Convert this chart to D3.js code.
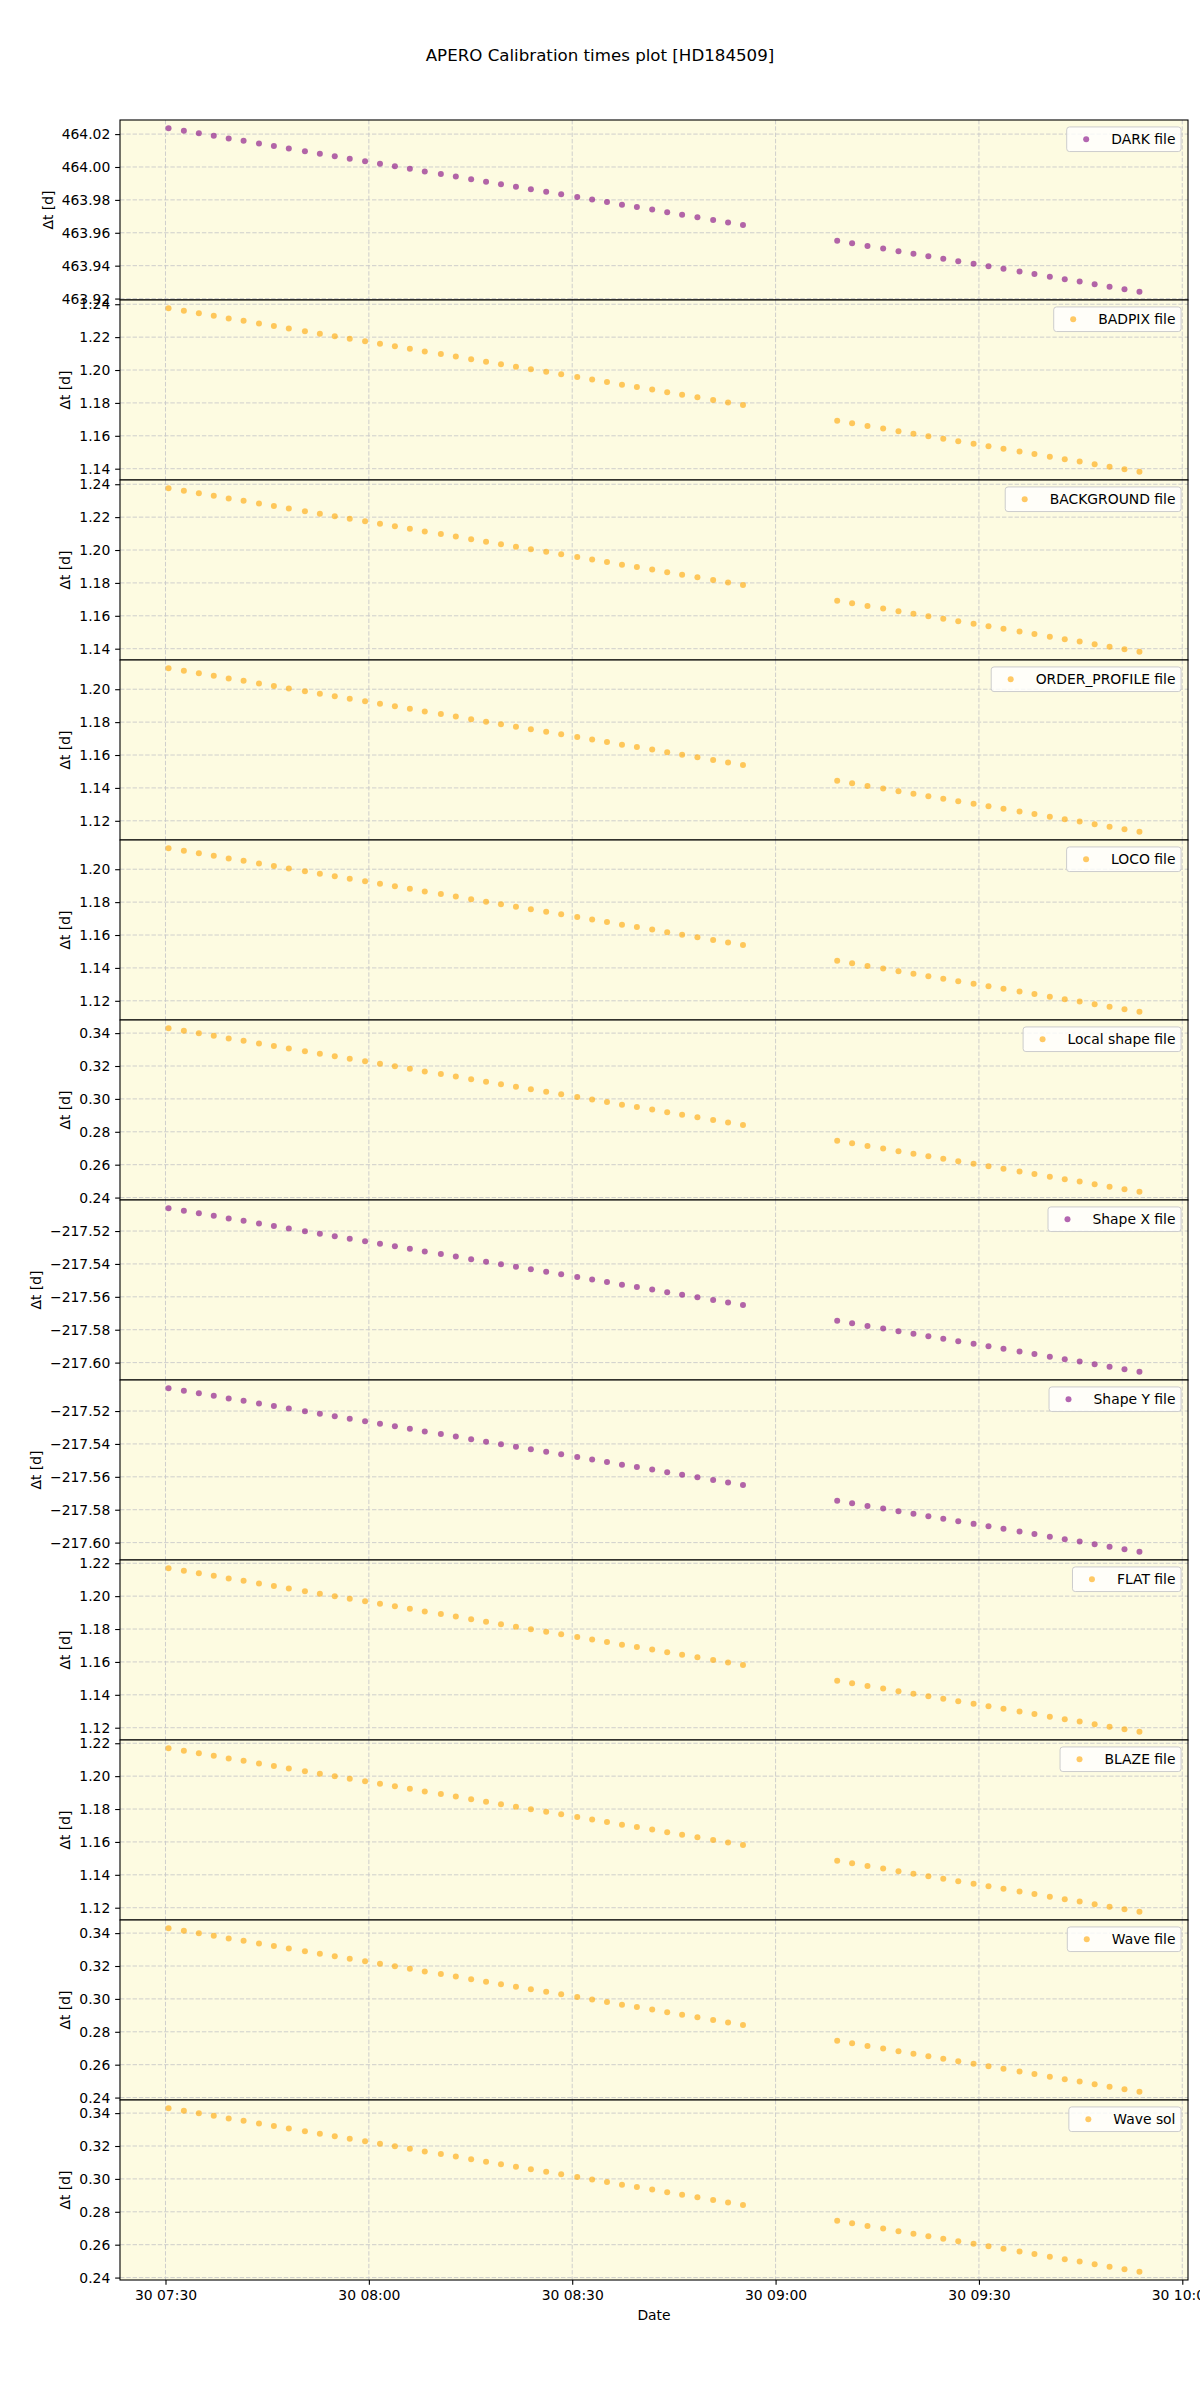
<!DOCTYPE html>
<html><head><meta charset="utf-8">
<script src="https://cdn.jsdelivr.net/npm/d3@7"></script>
<style>
body{margin:0;background:#fff}
svg text{font-family:"DejaVu Sans",sans-serif;fill:#000}
</style>
</head><body>
<svg id="chart" width="1200" height="2400"></svg>
<script>
// ---------------- DATA ----------------
const chartTitle = "APERO Calibration times plot [HD184509]";
const obsDay = "2020-09-30";
// observation times, minutes after 07:30 (UTC) on day 30
const timeOffsetsMin = [
  0.45, 2.71, 4.92, 7.12, 9.32, 11.52, 13.79, 15.99, 18.19, 20.57,
  22.77, 24.97, 27.18, 29.44, 31.64, 33.84, 36.05, 38.25, 40.62, 42.83,
  45.09, 47.29, 49.49, 51.70, 53.90, 56.16, 58.37, 60.74, 62.94, 65.13,
  67.34, 69.54, 71.80, 74.01, 76.21, 78.47, 80.79, 82.99, 85.19,
  99.09, 101.29, 103.56, 105.87, 108.13, 110.34, 112.54, 114.74, 116.95, 119.21,
  121.41, 123.62, 125.99, 128.19, 130.46, 132.66, 134.86, 137.07, 139.27, 141.47, 143.68
];
const darkValues = [
  464.0236, 464.0220, 464.0205, 464.0190, 464.0174, 464.0159, 464.0143, 464.0128, 464.0113, 464.0096,
  464.0081, 464.0066, 464.0050, 464.0035, 464.0019, 464.0004, 463.9989, 463.9973, 463.9957, 463.9942,
  463.9926, 463.9911, 463.9895, 463.9880, 463.9865, 463.9849, 463.9834, 463.9817, 463.9802, 463.9787,
  463.9771, 463.9756, 463.9741, 463.9725, 463.9710, 463.9694, 463.9678, 463.9663, 463.9648,
  463.9551, 463.9536, 463.9520, 463.9504, 463.9488, 463.9473, 463.9458, 463.9442, 463.9427, 463.9411,
  463.9396, 463.9381, 463.9364, 463.9349, 463.9333, 463.9318, 463.9303, 463.9287, 463.9272, 463.9257, 463.9241
];
const badpixValues = [
  1.2376, 1.2360, 1.2345, 1.2330, 1.2314, 1.2299, 1.2283, 1.2268, 1.2253, 1.2236,
  1.2221, 1.2206, 1.2190, 1.2175, 1.2159, 1.2144, 1.2129, 1.2113, 1.2097, 1.2082,
  1.2066, 1.2051, 1.2035, 1.2020, 1.2005, 1.1989, 1.1974, 1.1957, 1.1942, 1.1927,
  1.1911, 1.1896, 1.1881, 1.1865, 1.1850, 1.1834, 1.1818, 1.1803, 1.1788,
  1.1691, 1.1676, 1.1660, 1.1644, 1.1628, 1.1613, 1.1598, 1.1582, 1.1567, 1.1551,
  1.1536, 1.1521, 1.1504, 1.1489, 1.1473, 1.1458, 1.1443, 1.1427, 1.1412, 1.1397, 1.1381
];
const backgroundValues = badpixValues.slice();
const orderProfileValues = [
  1.2128, 1.2112, 1.2097, 1.2082, 1.2066, 1.2051, 1.2035, 1.2020, 1.2005, 1.1988,
  1.1973, 1.1958, 1.1942, 1.1927, 1.1911, 1.1896, 1.1881, 1.1865, 1.1849, 1.1834,
  1.1818, 1.1803, 1.1787, 1.1772, 1.1757, 1.1741, 1.1726, 1.1709, 1.1694, 1.1679,
  1.1663, 1.1648, 1.1633, 1.1617, 1.1602, 1.1586, 1.1570, 1.1555, 1.1540,
  1.1443, 1.1428, 1.1412, 1.1396, 1.1380, 1.1365, 1.1350, 1.1334, 1.1319, 1.1303,
  1.1288, 1.1273, 1.1256, 1.1241, 1.1225, 1.1210, 1.1195, 1.1179, 1.1164, 1.1149, 1.1133
];
const locoValues = orderProfileValues.slice();
const localShapeValues = [
  0.3430, 0.3414, 0.3399, 0.3384, 0.3368, 0.3353, 0.3337, 0.3322, 0.3307, 0.3290,
  0.3275, 0.3260, 0.3244, 0.3229, 0.3213, 0.3198, 0.3183, 0.3167, 0.3151, 0.3136,
  0.3120, 0.3105, 0.3089, 0.3074, 0.3059, 0.3043, 0.3028, 0.3011, 0.2996, 0.2981,
  0.2965, 0.2950, 0.2935, 0.2919, 0.2904, 0.2888, 0.2872, 0.2857, 0.2842,
  0.2745, 0.2730, 0.2714, 0.2698, 0.2682, 0.2667, 0.2652, 0.2636, 0.2621, 0.2605,
  0.2590, 0.2575, 0.2558, 0.2543, 0.2527, 0.2512, 0.2497, 0.2481, 0.2466, 0.2451, 0.2435
];
const shapeXValues = [
  -217.5061, -217.5077, -217.5092, -217.5107, -217.5123, -217.5138, -217.5154, -217.5169, -217.5184, -217.5201,
  -217.5216, -217.5231, -217.5247, -217.5262, -217.5278, -217.5293, -217.5308, -217.5324, -217.5340, -217.5355,
  -217.5371, -217.5386, -217.5402, -217.5417, -217.5432, -217.5448, -217.5463, -217.5480, -217.5495, -217.5510,
  -217.5526, -217.5541, -217.5556, -217.5572, -217.5587, -217.5603, -217.5619, -217.5634, -217.5649,
  -217.5746, -217.5761, -217.5777, -217.5793, -217.5809, -217.5824, -217.5839, -217.5855, -217.5870, -217.5886,
  -217.5901, -217.5916, -217.5933, -217.5948, -217.5964, -217.5979, -217.5994, -217.6010, -217.6025, -217.6040, -217.6056
];
const shapeYValues = shapeXValues.slice();
const flatValues = [
  1.2170, 1.2154, 1.2139, 1.2124, 1.2108, 1.2093, 1.2077, 1.2062, 1.2047, 1.2030,
  1.2015, 1.2000, 1.1984, 1.1969, 1.1953, 1.1938, 1.1923, 1.1907, 1.1891, 1.1876,
  1.1860, 1.1845, 1.1829, 1.1814, 1.1799, 1.1783, 1.1768, 1.1751, 1.1736, 1.1721,
  1.1705, 1.1690, 1.1675, 1.1659, 1.1644, 1.1628, 1.1612, 1.1597, 1.1582,
  1.1485, 1.1470, 1.1454, 1.1438, 1.1422, 1.1407, 1.1392, 1.1376, 1.1361, 1.1345,
  1.1330, 1.1315, 1.1298, 1.1283, 1.1267, 1.1252, 1.1237, 1.1221, 1.1206, 1.1191, 1.1175
];
const blazeValues = flatValues.slice();
const waveFileValues = localShapeValues.slice();
const waveSolValues = localShapeValues.slice();

const seriesLabels = ["DARK file","BADPIX file","BACKGROUND file","ORDER_PROFILE file","LOCO file",
  "Local shape file","Shape X file","Shape Y file","FLAT file","BLAZE file","Wave file","Wave sol"];
const seriesColorNames = ["purple","orange","orange","orange","orange","orange",
  "purple","purple","orange","orange","orange","orange"];
const yTicksDark = [463.92, 463.94, 463.96, 463.98, 464.00, 464.02];
const yTicksBadpix = [1.14, 1.16, 1.18, 1.20, 1.22, 1.24];
const yTicksOrder = [1.12, 1.14, 1.16, 1.18, 1.20];
const yTicksLocal = [0.24, 0.26, 0.28, 0.30, 0.32, 0.34];
const yTicksShape = [-217.60, -217.58, -217.56, -217.54, -217.52];
const yTicksFlat = [1.12, 1.14, 1.16, 1.18, 1.20, 1.22];
const xTickTimes = ["07:30","08:00","08:30","09:00","09:30","10:00"];
const yLabel = "Δt [d]";
const xLabel = "Date";

// ---------------- BUILD ----------------
const panels = [
  {label: seriesLabels[0], values: darkValues, ticks: yTicksDark},
  {label: seriesLabels[1], values: badpixValues, ticks: yTicksBadpix},
  {label: seriesLabels[2], values: backgroundValues, ticks: yTicksBadpix},
  {label: seriesLabels[3], values: orderProfileValues, ticks: yTicksOrder},
  {label: seriesLabels[4], values: locoValues, ticks: yTicksOrder},
  {label: seriesLabels[5], values: localShapeValues, ticks: yTicksLocal},
  {label: seriesLabels[6], values: shapeXValues, ticks: yTicksShape},
  {label: seriesLabels[7], values: shapeYValues, ticks: yTicksShape},
  {label: seriesLabels[8], values: flatValues, ticks: yTicksFlat},
  {label: seriesLabels[9], values: blazeValues, ticks: yTicksFlat},
  {label: seriesLabels[10], values: waveFileValues, ticks: yTicksLocal},
  {label: seriesLabels[11], values: waveSolValues, ticks: yTicksLocal}
];
panels.forEach((p, i) => p.color = seriesColorNames[i]);

const colorMap = {purple: "#800080", orange: "#ffa500"};
const L = 120, R = 1188, T = 120, B = 2280;
const ph = (B - T) / panels.length;
const FS = 13.9, TICK = 4.86, DOT_R = 3.0;

const svg = d3.select("#chart");
const [yy, mo, dd] = obsDay.split("-").map(Number);
const base = Date.UTC(yy, mo - 1, dd, 7, 30, 0);
const times = timeOffsetsMin.map(m => new Date(base + m * 60000));
const tExt = d3.extent(times, d => +d);
const tPad = (tExt[1] - tExt[0]) * 0.05;
const x = d3.scaleUtc().domain([new Date(tExt[0] - tPad), new Date(tExt[1] + tPad)]).range([L, R]);
const xTicks = xTickTimes.map(s => { const [h, m] = s.split(":").map(Number); return new Date(Date.UTC(yy, mo - 1, dd, h, m)); });

svg.append("text").attr("x", 600).attr("y", 61).attr("text-anchor", "middle")
  .style("font-size", "16.67px").text(chartTitle);

panels.forEach((p, i) => {
  const top = T + i * ph;
  const g = svg.append("g");
  const ext = d3.extent(p.values);
  const pad = (ext[1] - ext[0]) * 0.05;
  const y = d3.scaleLinear().domain([ext[0] - pad, ext[1] + pad]).range([top + ph, top]);

  g.append("rect").attr("x", L).attr("y", top).attr("width", R - L).attr("height", ph).attr("fill", "#fdfbe1");

  // grid
  g.selectAll(".gx").data(xTicks).join("line")
    .attr("x1", d => x(d)).attr("x2", d => x(d)).attr("y1", top).attr("y2", top + ph)
    .attr("stroke", "#c9c9c9").attr("stroke-width", 0.9).attr("stroke-dasharray", "4.4,1.9");
  g.selectAll(".gy").data(p.ticks).join("line")
    .attr("x1", L).attr("x2", R).attr("y1", d => y(d)).attr("y2", d => y(d))
    .attr("stroke", "#c9c9c9").attr("stroke-width", 0.9).attr("stroke-dasharray", "4.4,1.9");

  // points
  g.selectAll("circle.pt").data(p.values).join("circle").attr("class", "pt")
    .attr("cx", (d, j) => x(times[j])).attr("cy", d => y(d)).attr("r", DOT_R)
    .attr("fill", colorMap[p.color]).attr("fill-opacity", 0.6);

  // frame
  g.append("rect").attr("x", L).attr("y", top).attr("width", R - L).attr("height", ph)
    .attr("fill", "none").attr("stroke", "#000").attr("stroke-width", 1.1);

  // y axis
  const ya = g.append("g").attr("transform", `translate(${L},0)`)
    .call(d3.axisLeft(y).tickValues(p.ticks).tickFormat(d3.format(".2f")).tickSize(TICK).tickPadding(TICK));
  ya.select(".domain").remove();
  ya.attr("font-family", null).attr("font-size", null);
  ya.selectAll("line").attr("stroke", "#000").attr("stroke-width", 1.1);
  ya.selectAll("text").style("font-size", FS + "px");
  let maxW = 0;
  ya.selectAll("text").each(function () { maxW = Math.max(maxW, this.getComputedTextLength()); });
  const lx = L - TICK - TICK - maxW - 5.56 - 3.3;
  g.append("text").attr("transform", `translate(${lx},${top + ph / 2}) rotate(-90)`)
    .attr("text-anchor", "middle").style("font-size", FS + "px").text(yLabel);

  // legend
  const lg = g.append("g");
  const lt = lg.append("text").style("font-size", FS + "px").text(p.label);
  const tw = lt.node().getComputedTextLength();
  const bp = 5.56, hl = 27.8, htp = 11.12;
  const lw = bp + hl + htp + tw + bp, lh = 24.6;
  const lxr = R - 6.95, ltop = top + 6.95;
  const lleft = lxr - lw;
  lg.insert("rect", "text").attr("x", lleft).attr("y", ltop).attr("width", lw).attr("height", lh)
    .attr("rx", 2.8).attr("fill", "#fff").attr("fill-opacity", 0.8).attr("stroke", "#cccccc").attr("stroke-width", 1);
  lg.append("circle").attr("cx", lleft + bp + hl / 2).attr("cy", ltop + lh / 2).attr("r", DOT_R)
    .attr("fill", colorMap[p.color]).attr("fill-opacity", 0.6);
  lt.attr("x", lleft + bp + hl + htp).attr("y", ltop + lh / 2).attr("dy", "0.36em");
});

// bottom x axis
const xa = svg.append("g").attr("transform", `translate(0,${B})`)
  .call(d3.axisBottom(x).tickValues(xTicks).tickFormat(d3.utcFormat("%d %H:%M")).tickSize(TICK).tickPadding(TICK));
xa.select(".domain").remove();
xa.attr("font-family", null).attr("font-size", null);
xa.selectAll("line").attr("stroke", "#000").attr("stroke-width", 1.1);
xa.selectAll("text").style("font-size", FS + "px");

svg.append("text").attr("x", (L + R) / 2).attr("y", 2320).attr("text-anchor", "middle")
  .style("font-size", FS + "px").text(xLabel);
</script>
</body></html>
